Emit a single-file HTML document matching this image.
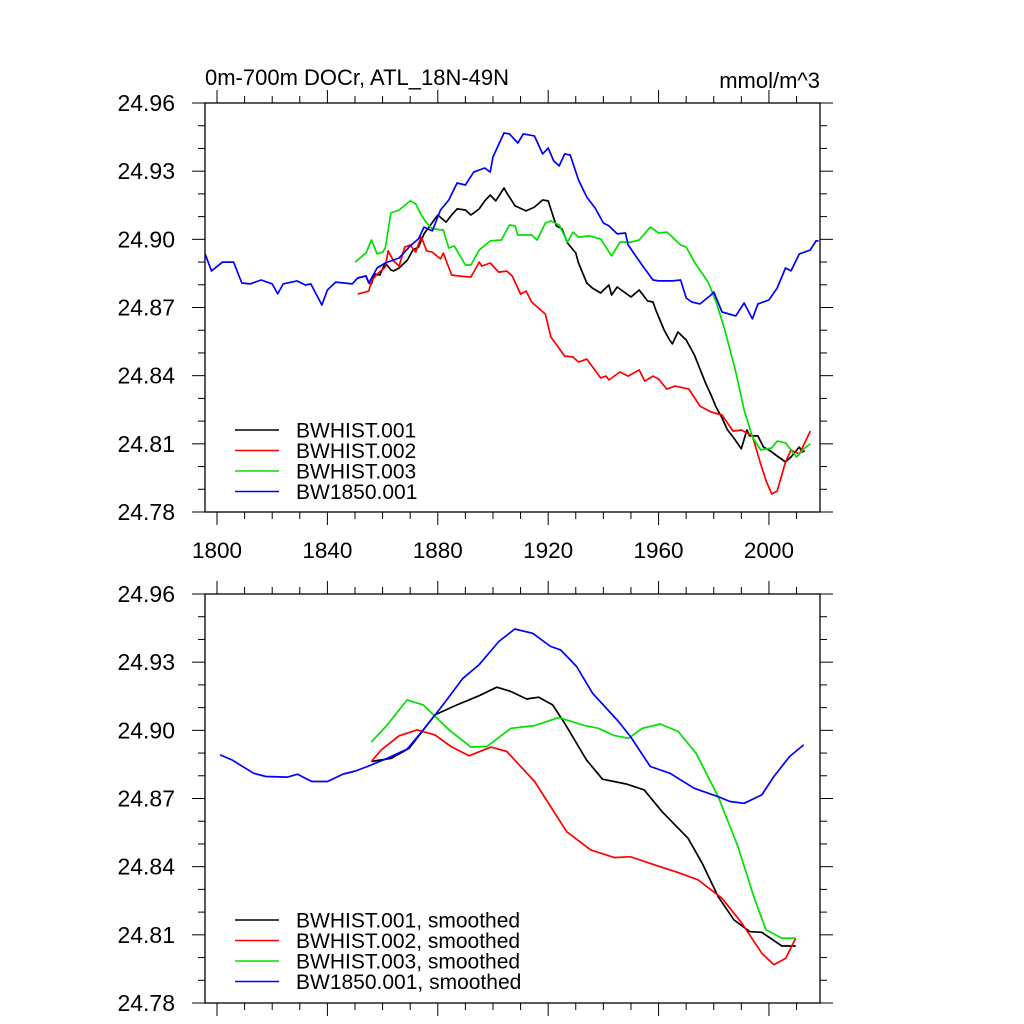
<!DOCTYPE html>
<html><head><meta charset="utf-8"><style>
html,body{margin:0;padding:0;background:#fff;}
svg{display:block;font-family:"Liberation Sans",Arial,sans-serif;}
</style></head><body>
<svg id="chart" width="1024" height="1024" viewBox="0 0 1024 1024" xmlns="http://www.w3.org/2000/svg">
<text x="205" y="85" font-size="22">0m-700m DOCr, ATL_18N-49N</text>
<text x="820" y="88" font-size="22" text-anchor="end">mmol/m^3</text>
</svg>
<script>
const yTickLabels=["24.96","24.93","24.90","24.87","24.84","24.81","24.78"];
const xTickLabels=["1800","1840","1880","1920","1960","2000"];
const seriesNames=["BWHIST.001","BWHIST.002","BWHIST.003","BW1850.001"];
const seriesColors=["#000000","#ff0000","#00e000","#0000ff"];

// top panel (raw)
const blueYears=[1795.7,1798,1802,1806,1809,1812,1816,1820,1822,1824,1829,1832,1834,1838,1840,1843,1846,1849,1851,1854,1855,1858,1861,1866,1870,1873,1875,1878,1881,1884,1887,1890,1893,1897,1899,1900,1904,1906,1909,1911,1915,1918,1920,1922,1924,1926,1928,1931,1934,1937,1940,1942,1945,1948,1949,1954,1958,1960,1965,1968,1970,1972,1975,1979,1980,1983,1988,1991,1994,1996,2000,2003,2006,2008,2011,2015,2017,2018];
const blueVals=[24.8936,24.8861,24.8900,24.8900,24.8808,24.8804,24.8821,24.8804,24.8760,24.8804,24.8817,24.8799,24.8804,24.8711,24.8777,24.8812,24.8808,24.8804,24.8830,24.8839,24.8808,24.8874,24.8896,24.8918,24.8971,24.9002,24.9054,24.9037,24.9129,24.9173,24.9248,24.9239,24.9296,24.9314,24.9296,24.9363,24.9468,24.9464,24.9424,24.9464,24.9455,24.9376,24.9402,24.9345,24.9323,24.9376,24.9371,24.9261,24.9186,24.9138,24.9072,24.9059,24.9024,24.9028,24.8975,24.8887,24.8821,24.8817,24.8817,24.8821,24.8742,24.8724,24.8716,24.8755,24.8768,24.8680,24.8663,24.8720,24.8650,24.8716,24.8733,24.8786,24.8874,24.8861,24.8936,24.8953,24.8993,24.8993];
const blackYears=[1851,1854,1855,1856,1857,1859,1861,1863,1864,1866,1869,1871,1873,1875,1880,1883,1885,1887,1890,1892,1895,1897,1899,1901,1904,1905,1908,1912,1915,1918,1920,1922,1923,1925,1927,1930,1931,1934,1936,1939,1942,1943,1945,1948,1950,1953,1956,1958,1959,1962,1964,1965,1967,1970,1973,1977,1979,1981,1983,1985,1987,1990,1992,1993,1996,1998,2000,2006,2008,2011,2012,2013];
const blackVals=[24.8830,24.8839,24.8808,24.8804,24.8848,24.8843,24.8896,24.8865,24.8861,24.8874,24.8909,24.8953,24.8966,24.9024,24.9107,24.9076,24.9107,24.9134,24.9129,24.9107,24.9134,24.9169,24.9195,24.9169,24.9226,24.9204,24.9147,24.9125,24.9142,24.9173,24.9169,24.9094,24.9059,24.9046,24.8984,24.8940,24.8896,24.8808,24.8786,24.8764,24.8799,24.8755,24.8790,24.8764,24.8746,24.8777,24.8729,24.8724,24.8689,24.8601,24.8557,24.8540,24.8592,24.8557,24.8491,24.8368,24.8315,24.8258,24.8214,24.8161,24.8130,24.8078,24.8161,24.8135,24.8135,24.8086,24.8073,24.8020,24.8042,24.8086,24.8064,24.8069];
const redYears=[1851,1855,1856,1858,1861,1862,1864,1866,1868,1870,1872,1874,1876,1878,1881,1882,1885,1888,1892,1895,1896,1899,1902,1905,1907,1910,1912,1914,1919,1921,1926,1929,1931,1934,1939,1941,1942,1946,1949,1953,1955,1958,1960,1963,1966,1971,1975,1979,1983,1987,1990,1994,1997,1999,2001,2003,2006,2008,2011,2015];
const redVals=[24.8759,24.8772,24.8816,24.8847,24.8878,24.8949,24.8905,24.8882,24.8966,24.8975,24.8944,24.9011,24.8949,24.8944,24.8914,24.8940,24.8843,24.8838,24.8834,24.8900,24.8882,24.8896,24.8856,24.8860,24.8838,24.8759,24.8772,24.8724,24.8671,24.8570,24.8486,24.8482,24.8460,24.8473,24.8390,24.8398,24.8381,24.8416,24.8398,24.8425,24.8376,24.8398,24.8385,24.8341,24.8354,24.8341,24.8266,24.8240,24.8227,24.8156,24.8161,24.8135,24.8011,24.7936,24.7879,24.7892,24.8020,24.8073,24.8055,24.8156];
const greenYears=[1850,1854,1856,1858,1860,1861,1863,1866,1870,1872,1874,1876,1878,1882,1884,1886,1890,1892,1895,1899,1903,1906,1908,1909,1914,1916,1919,1921,1924,1927,1929,1931,1935,1939,1943,1946,1950,1953,1957,1960,1963,1965,1968,1970,1973,1978,1981,1984,1988,1991,1994,1997,2001,2003,2006,2010,2013,2015];
const greenVals=[24.8900,24.8940,24.8997,24.8936,24.8944,24.8962,24.9116,24.9129,24.9169,24.9156,24.9107,24.9072,24.9046,24.9041,24.8962,24.8971,24.8887,24.8887,24.8953,24.8993,24.8997,24.9063,24.9059,24.9019,24.9019,24.8997,24.9072,24.9081,24.9063,24.8988,24.9032,24.9010,24.9015,24.9002,24.8927,24.8988,24.8988,24.8997,24.9054,24.9028,24.9032,24.9010,24.8975,24.8966,24.8900,24.8812,24.8720,24.8601,24.8416,24.8249,24.8130,24.8073,24.8082,24.8112,24.8104,24.8042,24.8082,24.8100];

// bottom panel (smoothed)
const sBlueYears=[1801.1,1805.4,1813.3,1817.7,1825.6,1829.2,1834.3,1840.0,1845.8,1850.2,1854.5,1861.7,1868.9,1874.7,1881.9,1889.1,1894.9,1902.1,1907.9,1914.4,1920.9,1924.5,1930.3,1936.1,1945.5,1949.8,1957.0,1964.2,1972.9,1981.6,1985.9,1991.0,1997.4,2001.8,2007.5,2012.6];
const sBlueVals=[24.8892,24.8870,24.8811,24.8797,24.8794,24.8807,24.8775,24.8775,24.8808,24.8821,24.8841,24.8877,24.8917,24.9002,24.9112,24.9229,24.9288,24.9391,24.9446,24.9427,24.9369,24.9354,24.9281,24.9163,24.9039,24.8973,24.8841,24.8811,24.8745,24.8708,24.8687,24.8679,24.8716,24.8797,24.8885,24.8936];
const sBlackYears=[1855.9,1863.2,1869.6,1879.0,1886.3,1894.9,1901.4,1906.5,1912.2,1916.6,1921.6,1926.0,1933.9,1939.7,1948.3,1954.8,1961.3,1970.7,1975.8,1981.6,1987.3,1993.1,1997.4,2004.7,2009.7];
const sBlackVals=[24.8863,24.8877,24.8921,24.9068,24.9109,24.9152,24.9190,24.9171,24.9138,24.9146,24.9112,24.9031,24.8870,24.8785,24.8764,24.8738,24.8642,24.8525,24.8415,24.8268,24.8166,24.8114,24.8111,24.8051,24.8051];
const sRedYears=[1855.9,1859.5,1866.0,1872.5,1879.0,1884.8,1891.3,1899.3,1905.0,1915.1,1926.7,1935.4,1944.0,1949.8,1958.5,1967.1,1974.3,1983.0,1990.2,1997.4,2001.8,2006.1,2009.7];
const sRedVals=[24.8863,24.8914,24.8976,24.9002,24.8980,24.8929,24.8888,24.8926,24.8907,24.8775,24.8554,24.8474,24.8440,24.8444,24.8408,24.8374,24.8342,24.8261,24.8151,24.8019,24.7968,24.7997,24.8085];
const sGreenYears=[1855.9,1861.7,1868.9,1874.7,1884.1,1892.0,1897.8,1906.5,1915.1,1923.8,1933.2,1938.2,1944.0,1949.1,1954.1,1960.6,1967.1,1973.6,1981.6,1988.8,1994.5,1998.9,2004.7,2009.7];
const sGreenVals=[24.8948,24.9024,24.9134,24.9112,24.9002,24.8926,24.8929,24.9009,24.9021,24.9056,24.9021,24.9009,24.8977,24.8965,24.9009,24.9028,24.8995,24.8899,24.8708,24.8488,24.8268,24.8122,24.8085,24.8085];

const NS="http://www.w3.org/2000/svg";
const svg=document.getElementById("chart");
const X0=205,X1=820,YMIN=1795.65,YMAX=2018.5,VMIN=24.78,VMAX=24.96;
function xs(yr){return X0+(yr-YMIN)/(YMAX-YMIN)*(X1-X0);}
function mk(tag,attrs,parent){const e=document.createElementNS(NS,tag);for(const k in attrs)e.setAttribute(k,attrs[k]);(parent||svg).appendChild(e);return e;}

function panel(top,id,sets,labels,legY){
  const bot=top+409;
  const ys=v=>top+(VMAX-v)/(VMAX-VMIN)*409;
  const g=mk("g",{});
  
  
  for(let i=0;i<=18;i++){
    const v=VMIN+i*0.01,y=ys(v),major=(i%3===0),L=major?13:7;
    const t1=mk("line",{x1:X0-L,x2:X0,y1:y,y2:y,stroke:"#000","stroke-width":1},g);
    
    
    const t2=mk("line",{x1:X1,x2:X1+L,y1:y,y2:y,stroke:"#000","stroke-width":1},g);
    
    
  }
  yTickLabels.forEach((lab,i)=>{
    const t=mk("text",{x:175,y:ys(VMAX-i*0.03)+8,"font-size":23,"text-anchor":"end"},g);
    t.textContent=lab;
    
    
  });
  for(let yr=1800;yr<=2010;yr+=10){
    const x=xs(yr),major=((yr-1800)%40===0),L=major?13:7;
    const a=mk("line",{x1:x,x2:x,y1:bot,y2:bot+L,stroke:"#000","stroke-width":1},g);
    
    
    const b=mk("line",{x1:x,x2:x,y1:top-L,y2:top,stroke:"#000","stroke-width":1},g);
    
    
  }
  if(id==="raw"){
    xTickLabels.forEach(lab=>{
      const t=mk("text",{x:xs(+lab),y:bot+46,"font-size":22.5,"text-anchor":"middle"},g);
      t.textContent=lab;
      
      
    });
  }
  sets.forEach((s,k)=>{
    const d=s[0].map((yr,i)=>(i?"L":"M")+xs(yr).toFixed(1)+","+ys(s[1][i]).toFixed(1)).join(" ");
    const p=mk("path",{d:d,fill:"none",stroke:seriesColors[k],"stroke-width":1.7,"stroke-linejoin":"round"},g);
    
    
  });
  const box=mk("rect",{x:X0,y:top,width:X1-X0,height:409,fill:"none",stroke:"#000","stroke-width":1.3},g);
  
  
  labels.forEach((lab,k)=>{
    const y=legY+k*20.5;
    const l=mk("line",{x1:235,x2:279,y1:y,y2:y,stroke:seriesColors[k],"stroke-width":1.6},g);
    
    
    const t=mk("text",{x:296,y:y+7.5,"font-size":21},g);
    t.textContent=lab;
    
    
  });
}
panel(103,"raw",[[blackYears,blackVals],[redYears,redVals],[greenYears,greenVals],[blueYears,blueVals]],seriesNames,430);
panel(594,"smoothed",[[sBlackYears,sBlackVals],[sRedYears,sRedVals],[sGreenYears,sGreenVals],[sBlueYears,sBlueVals]],seriesNames.map(n=>n+", smoothed"),920);
</script>
</body></html>
